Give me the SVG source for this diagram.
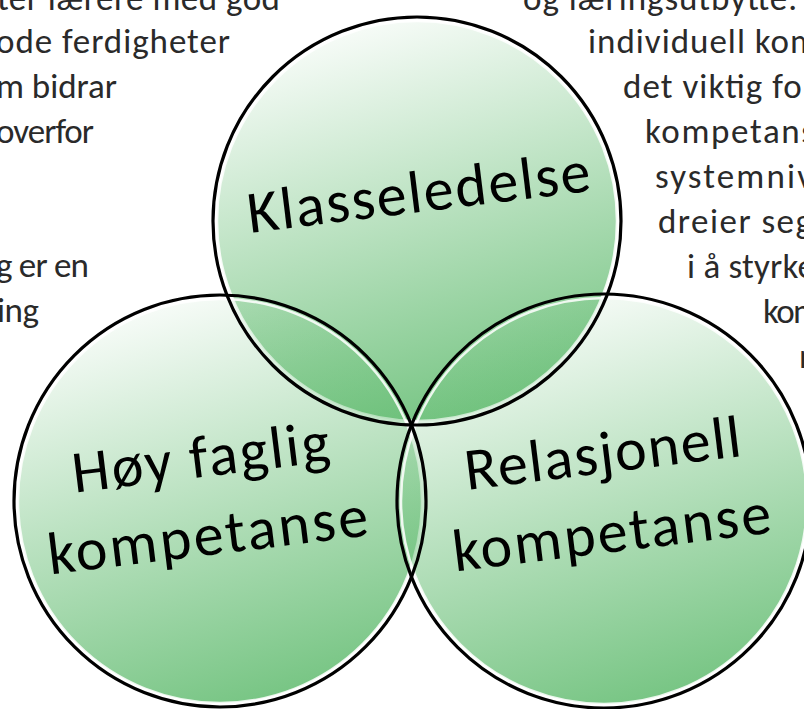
<svg xmlns="http://www.w3.org/2000/svg" width="804" height="709" viewBox="0 0 804 709">
<defs>
<linearGradient id="grn" x1="0.35" y1="0" x2="0.65" y2="1">
<stop offset="0" stop-color="#5bb96a" stop-opacity="0.04"/>
<stop offset="1" stop-color="#5bb96a" stop-opacity="0.84"/>
</linearGradient>
<style>
.bg{font-family:Carlito,Lato,"Open Sans",sans-serif;font-size:35px;fill:#2a2a2a}
.fill{fill:url(#grn);stroke:#ffffff;stroke-opacity:0.85;stroke-width:2.5}
.outline{fill:none;stroke:#000;stroke-width:3.2}
.lbl{font-family:Carlito,Lato,"Open Sans",sans-serif;font-size:60px;fill:#000;text-anchor:middle}
</style>
</defs>
<rect width="804" height="709" fill="#fff"/>
<g id="background-text-left" class="bg">
<text x="-3" y="10" textLength="283">ter lærere med god</text>
<text x="-4" y="53" textLength="234">ode ferdigheter</text>
<text x="-4" y="98" textLength="121">m bidrar</text>
<text x="-4" y="143" textLength="98">overfor</text>
<text x="-4" y="277" textLength="93">g er en</text>
<text x="-3" y="322" textLength="42">ing</text>
</g>
<g id="background-text-right" class="bg">
<text x="523" y="10" textLength="274">og læringsutbytte.</text>
<text x="588" y="53" textLength="230">individuell kom</text>
<text x="623" y="98" textLength="192">det viktig for</text>
<text x="645" y="143" textLength="170">kompetans</text>
<text x="655" y="188" textLength="158">systemniv</text>
<text x="658" y="233" textLength="154">dreier seg</text>
<text x="687" y="278" textLength="128">i å styrke</text>
<text x="763" y="323" textLength="58">kom</text>
<text x="799" y="368">n</text>
</g>
<g id="node-klasseledelse">
<circle class="fill" cx="417" cy="221" r="200"/>
<text class="lbl" x="421" y="212" textLength="345" transform="rotate(-7 421 212)">Klasseledelse</text>
</g>
<g id="node-hoy-faglig-kompetanse">
<circle class="fill" cx="220" cy="501" r="202"/>
<text class="lbl" x="203" y="477" textLength="259" transform="rotate(-7 203 477)">Høy faglig</text>
<text class="lbl" x="210" y="555" textLength="322" transform="rotate(-7 210 555)">kompetanse</text>
</g>
<g id="node-relasjonell-kompetanse">
<circle class="fill" cx="604" cy="501" r="203"/>
<text class="lbl" x="605" y="473" textLength="278" transform="rotate(-7 605 473)">Relasjonell</text>
<text class="lbl" x="614" y="552" textLength="320" transform="rotate(-7 614 552)">kompetanse</text>
</g>
<g id="outlines">
<circle class="outline" cx="417" cy="221" r="204"/>
<circle class="outline" cx="220" cy="501" r="206"/>
<circle class="outline" cx="604" cy="501" r="207"/>
</g>
</svg>
